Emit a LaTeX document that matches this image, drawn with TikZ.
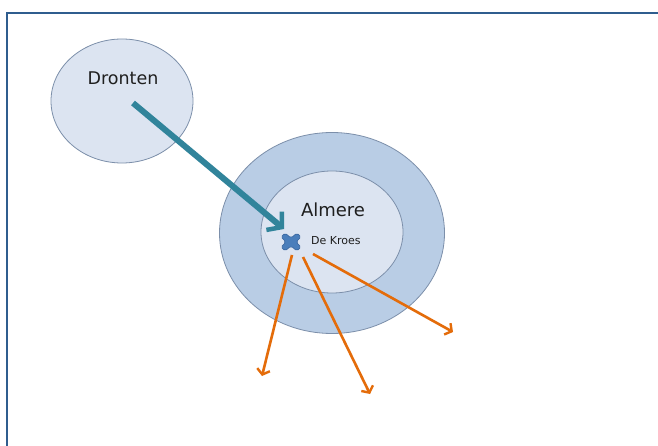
\documentclass[tikz,border=0pt]{standalone}
\usepackage{fontspec}
\setmainfont{DejaVu Sans}
\usetikzlibrary{shapes.geometric,arrows.meta}
\definecolor{frameblue}{HTML}{2F5D8E}
\definecolor{lightfill}{HTML}{DCE4F1}
\definecolor{outerfill}{HTML}{B9CDE5}
\definecolor{ringline}{HTML}{7C8FAA}
\definecolor{tealarrow}{HTML}{31849B}
\definecolor{orangearrow}{HTML}{E46C0A}
\definecolor{crossfill}{HTML}{4A7EBB}
\definecolor{crossline}{HTML}{36639C}
\tikzset{
  region/.style={ellipse, draw=ringline, line width=0.8pt, inner sep=0pt},
  flow/.style={draw=tealarrow, line width=6pt, -{Straight Barb[length=10pt,width=24pt,line width=4.5pt]}},
  outflow/.style={draw=orangearrow, line width=2.6pt, -{Straight Barb[length=5pt,width=13pt,line width=2.4pt]}},
  lbl/.style={inner sep=0pt, text=black!88}
}
\begin{document}
\begin{tikzpicture}[x=1pt,y=-1pt]
\useasboundingbox (0,0) rectangle (658,446);
\fill[white] (0,0) rectangle (658,446);
% frame
\draw[frameblue, line width=2pt] (7,446) -- (7,13) -- (658,13);
% Dronten
\node[region, fill=lightfill, minimum width=142pt, minimum height=124pt] (dronten) at (122,101) {};
\node[lbl, font=\fontsize{17.5}{20}\selectfont] (drontenlabel) at (123,78) {Dronten};
% Almere rings
\node[region, fill=outerfill, minimum width=225pt, minimum height=201pt] (outer) at (332,233) {};
\node[region, fill=lightfill, minimum width=142pt, minimum height=122pt] (inner) at (332,232) {};
\node[lbl, font=\fontsize{18}{20}\selectfont] (almerelabel) at (333,210) {Almere};
% De Kroes cross
\node[inner sep=0pt, minimum size=20pt] (kroes) at (291,242) {};
\begin{scope}[shift={(kroes.center)}]
\fill[crossfill, draw=crossline, line width=0.6pt, rounded corners=1.8pt]
  (-10,-5) -- (-6,-9) -- (0,-4) -- (6,-9) -- (10,-5) -- (5,0)
  -- (10,5) -- (6,9) -- (0,4) -- (-6,9) -- (-10,5) -- (-5,0) -- cycle;
\end{scope}
\node[lbl, font=\fontsize{11}{13}\selectfont, anchor=west] (kroeslabel) at (311,241) {De Kroes};
% teal arrow
\coordinate (tealstart) at (133,103);
\coordinate (tealend) at (284,229);
\draw[flow] (tealstart) -- (tealend);
% orange arrows
\coordinate (o1s) at (292,255);
\coordinate (o1e) at (262,376);
\coordinate (o2s) at (303,257);
\coordinate (o2e) at (370,394);
\coordinate (o3s) at (313,254);
\coordinate (o3e) at (453,332);
\draw[outflow] (o1s) -- (o1e);
\draw[outflow] (o2s) -- (o2e);
\draw[outflow] (o3s) -- (o3e);
\end{tikzpicture}
\end{document}
